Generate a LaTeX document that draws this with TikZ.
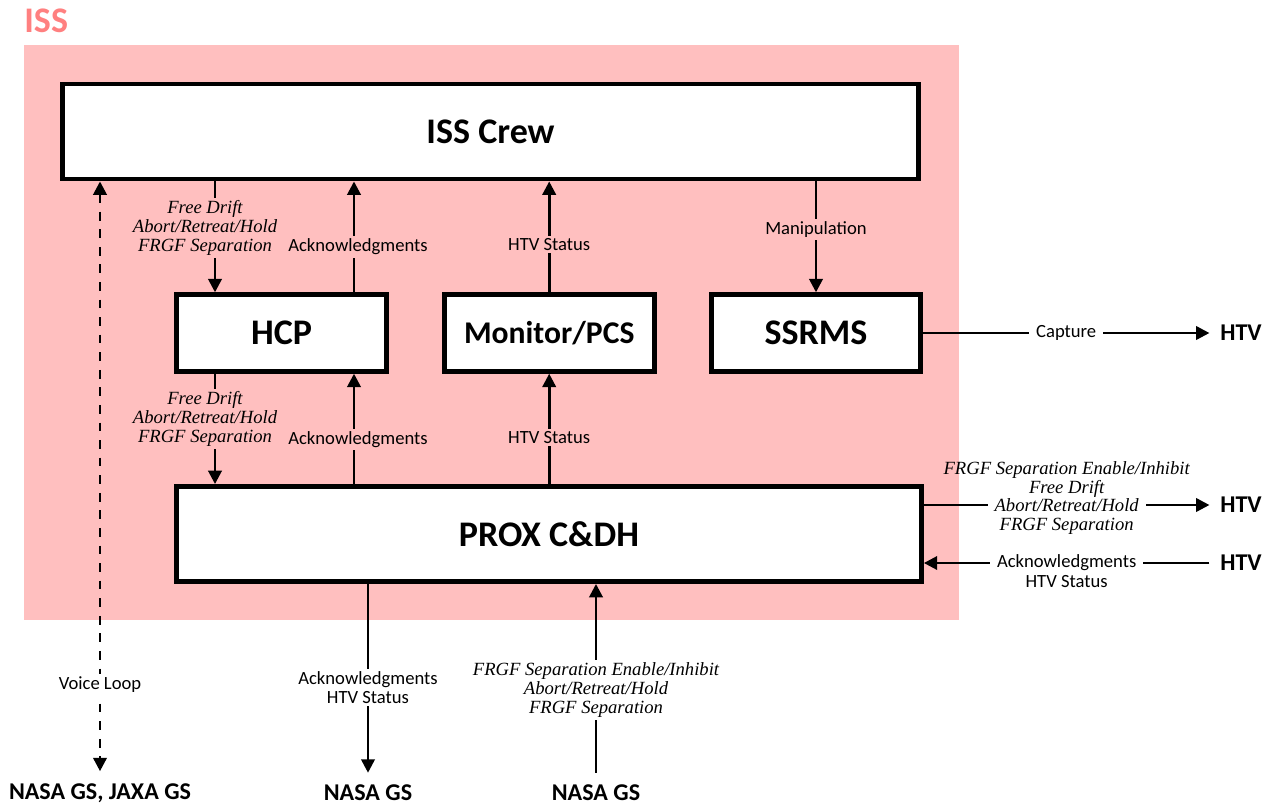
\documentclass[tikz,border=0pt]{standalone}
\usepackage{fontspec}
\setmainfont{Carlito}
\newfontfamily\cmdserif{Liberation Serif}
\usepackage{xcolor}
\usetikzlibrary{arrows.meta,positioning,calc}
\definecolor{issbg}{RGB}{255,191,191}
\definecolor{isstxt}{RGB}{255,128,128}

\begin{document}
\begin{tikzpicture}[x=0.02cm, y=-0.02cm,
    >={Triangle[width=7.6pt,length=7.6pt]},
    box/.style={draw, fill=white, line width=2.8pt, inner sep=0pt,
        font=\fontsize{20.5}{24}\selectfont\bfseries},
    flow/.style={line width=1.5pt, ->},
    lbl/.style={font=\fontsize{10.6}{10.8}\selectfont, align=center,
        fill=issbg, inner xsep=4pt, inner ysep=1.5pt},
    cmd/.style={lbl, font=\fontsize{10.6}{10.8}\selectfont\cmdserif\itshape},
    row/.style={font=\fontsize{10.6}{10.8}\selectfont\cmdserif\itshape,
        align=center, inner sep=0pt},
    rowsans/.style={font=\fontsize{10.6}{10.8}\selectfont, align=center, inner sep=0pt},
    ext/.style={font=\fontsize{13.7}{16}\selectfont\bfseries, inner xsep=6pt, inner ysep=6.8pt}
]
    \useasboundingbox (0,0) rectangle (1275,805);

    % ISS area
    \fill[issbg] (24,45) rectangle (959,620);
    \node[anchor=base west, inner sep=0pt, text=isstxt,
        font=\fontsize{20.5}{24}\selectfont\bfseries] (isstitle) at (24,32) {ISS};

    % boxes
    \node[box, minimum width=17.12cm, minimum height=1.9cm] (crew) at (490.5,131.5) {ISS Crew};
    \node[box, minimum width=4.2cm, minimum height=1.53cm] (hcp) at (281.5,333) {HCP};
    \node[box, minimum width=4.2cm, minimum height=1.53cm,
        font=\fontsize{18}{22}\selectfont\bfseries] (mon) at (549.2,333) {Monitor/PCS};
    \node[box, minimum width=4.18cm, minimum height=1.53cm] (ssrms) at (816,333) {SSRMS};
    \node[box, minimum width=14.9cm, minimum height=1.9cm] (prox) at (549,534) {PROX C\&DH};

    % outside ends
    \node[ext] (htvA) at (1241,333) {HTV};
    \node[ext] (htvB) at (1241,505) {HTV};
    \node[ext] (htvC) at (1241,563) {HTV};
    \node[ext] (gsA) at (100,793) {NASA GS, JAXA GS};
    \node[ext] (gsB) at (368,793) {NASA GS};
    \node[ext] (gsC) at (596,793) {NASA GS};

    % columns of the HCP links
    \coordinate (cmdx) at (215,0);
    \coordinate (ackx) at (354,0);

    % crew <-> boxes
    \draw[flow] (crew.south -| cmdx) -- node[cmd, pos=.42, xshift=-0.2cm]
        {Free Drift\\Abort/Retreat/Hold\\FRGF Separation} (hcp.north -| cmdx);
    \draw[flow] (hcp.north -| ackx) -- node[lbl, pos=.41, xshift=0.08cm] {Acknowledgments} (crew.south -| ackx);
    \draw[flow] (mon.north) -- node[lbl, pos=.43] {HTV Status} (crew.south -| mon.north);
    \draw[flow] (crew.south -| ssrms.north) -- node[lbl, pos=.43] {Manipulation} (ssrms.north);

    % boxes <-> PROX
    \draw[flow] (hcp.south -| cmdx) -- node[cmd, pos=.41, xshift=-0.2cm]
        {Free Drift\\Abort/Retreat/Hold\\FRGF Separation} (prox.north -| cmdx);
    \draw[flow] (prox.north -| ackx) -- node[lbl, pos=.405, xshift=0.08cm] {Acknowledgments} (hcp.south -| ackx);
    \draw[flow] (prox.north -| mon.south) -- node[lbl, pos=.42] {HTV Status} (mon.south);

    % to and from HTV
    \draw[flow] (ssrms.east) -- node[lbl, fill=white] {Capture} (htvA.west);
    \draw[flow] (prox.east |- htvB.west) -- node[cmd, fill=white,
        label={[row, label distance=-2.5pt]north:{FRGF Separation Enable/Inhibit\\Free Drift}},
        label={[row, label distance=0.5pt]south:FRGF Separation}] {Abort/Retreat/Hold} (htvB.west);
    \draw[flow] (htvC.west) -- node[lbl, fill=white,
        label={[rowsans, label distance=-0.6pt]south:HTV Status}] {Acknowledgments} (prox.east |- htvC.west);

    % ground
    \draw[flow, dashed, dash pattern=on 5pt off 5pt, <->] (crew.south -| gsA.north) --
        node[lbl, fill=white, pos=.853] {Voice Loop} (gsA.north);
    \draw[flow] (prox.south -| gsB.north) -- node[lbl, fill=white, pos=.55]
        {Acknowledgments\\HTV Status} (gsB.north);
    \draw[flow] (gsC.north) -- node[cmd, fill=white, pos=.44]
        {FRGF Separation Enable/Inhibit\\Abort/Retreat/Hold\\FRGF Separation} (prox.south -| gsC.north);
\end{tikzpicture}
\end{document}
